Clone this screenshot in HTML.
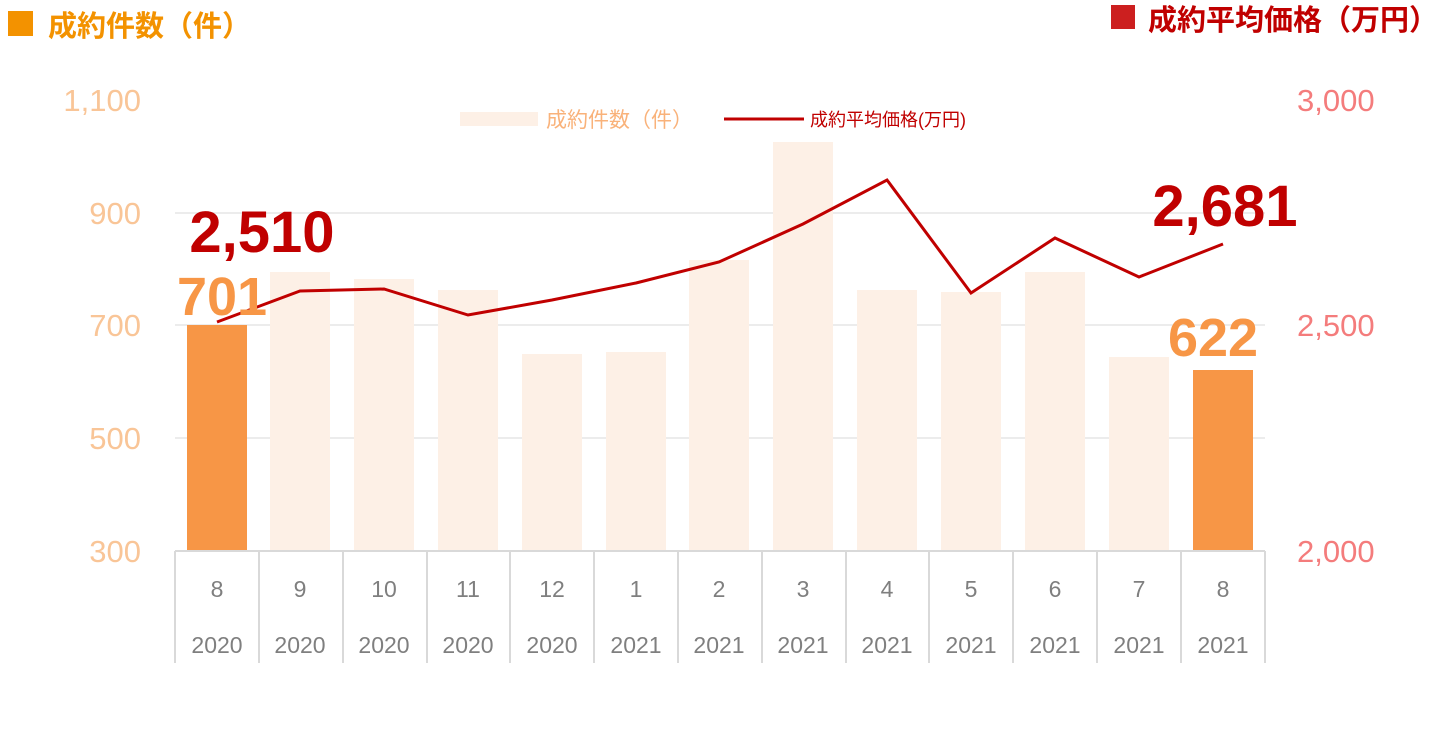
<!DOCTYPE html>
<html><head><meta charset="utf-8"><style>
body{margin:0;background:#fff}
svg text{font-family:"Liberation Sans","Noto Sans CJK JP",sans-serif}
</style></head><body>
<svg width="1440" height="738" viewBox="0 0 1440 738" xmlns="http://www.w3.org/2000/svg">
<rect x="8" y="11" width="25" height="25" fill="#f39200"/>
<text x="48" y="36" font-size="29" font-weight="bold" fill="#f39200">成約件数（件）</text>
<rect x="1111" y="5" width="24" height="24" fill="#cc1f1f"/>
<text x="1148" y="30" font-size="29" font-weight="bold" fill="#c00000">成約平均価格（万円）</text>
<g stroke="#e6e6e6" stroke-width="1.5">
<line x1="175" y1="213" x2="1265" y2="213"/><line x1="175" y1="325" x2="1265" y2="325"/><line x1="175" y1="438" x2="1265" y2="438"/>
</g>
<g font-size="31" fill="#f9c597" text-anchor="end">
<text x="141" y="111">1,100</text><text x="141" y="224">900</text><text x="141" y="336">700</text><text x="141" y="449">500</text><text x="141" y="562">300</text>
</g>
<g font-size="31" fill="#f47c7c">
<text x="1297" y="111">3,000</text><text x="1297" y="336">2,500</text><text x="1297" y="562">2,000</text>
</g>
<rect x="460" y="112" width="78" height="14" fill="#fdf0e6"/>
<text x="546" y="127" font-size="21" fill="#f9b27a">成約件数（件）</text>
<line x1="724" y1="119" x2="804" y2="119" stroke="#c00000" stroke-width="3"/>
<text x="810" y="126" font-size="18" fill="#c00000">成約平均価格(万円)</text>
<g fill="#fdf0e6">
<rect x="270" y="272" width="60" height="279"/><rect x="354" y="279" width="60" height="272"/><rect x="438" y="290" width="60" height="261"/><rect x="522" y="354" width="60" height="197"/><rect x="606" y="352" width="60" height="199"/><rect x="689" y="260" width="60" height="291"/><rect x="773" y="142" width="60" height="409"/><rect x="857" y="290" width="60" height="261"/><rect x="941" y="292" width="60" height="259"/><rect x="1025" y="272" width="60" height="279"/><rect x="1109" y="357" width="60" height="194"/>
</g>
<rect x="187" y="325" width="60" height="226" fill="#f79646"/>
<rect x="1193" y="370" width="60" height="181" fill="#f79646"/>
<polyline fill="none" stroke="#c00000" stroke-width="3" points="217,322 300,291 384,289 468,315 552,300 636,283 719,262 803,224 887,180 971,293 1055,238 1139,277 1223,244"/>
<g stroke="#d9d9d9" stroke-width="2">
<line x1="175" y1="551" x2="1265" y2="551"/>
<line x1="175" y1="551" x2="175" y2="663"/><line x1="259" y1="551" x2="259" y2="663"/><line x1="343" y1="551" x2="343" y2="663"/><line x1="427" y1="551" x2="427" y2="663"/><line x1="510" y1="551" x2="510" y2="663"/><line x1="594" y1="551" x2="594" y2="663"/><line x1="678" y1="551" x2="678" y2="663"/><line x1="762" y1="551" x2="762" y2="663"/><line x1="846" y1="551" x2="846" y2="663"/><line x1="929" y1="551" x2="929" y2="663"/><line x1="1013" y1="551" x2="1013" y2="663"/><line x1="1097" y1="551" x2="1097" y2="663"/><line x1="1181" y1="551" x2="1181" y2="663"/><line x1="1265" y1="551" x2="1265" y2="663"/>
</g>
<g font-size="23" fill="#7f7f7f" text-anchor="middle">
<text x="217" y="597">8</text><text x="300" y="597">9</text><text x="384" y="597">10</text><text x="468" y="597">11</text><text x="552" y="597">12</text><text x="636" y="597">1</text><text x="719" y="597">2</text><text x="803" y="597">3</text><text x="887" y="597">4</text><text x="971" y="597">5</text><text x="1055" y="597">6</text><text x="1139" y="597">7</text><text x="1223" y="597">8</text>
<text x="217" y="653">2020</text><text x="300" y="653">2020</text><text x="384" y="653">2020</text><text x="468" y="653">2020</text><text x="552" y="653">2020</text><text x="636" y="653">2021</text><text x="719" y="653">2021</text><text x="803" y="653">2021</text><text x="887" y="653">2021</text><text x="971" y="653">2021</text><text x="1055" y="653">2021</text><text x="1139" y="653">2021</text><text x="1223" y="653">2021</text>
</g>
<text x="262" y="252" font-size="58" font-weight="bold" fill="#c00000" text-anchor="middle">2,510</text>
<text x="1225" y="226" font-size="58" font-weight="bold" fill="#c00000" text-anchor="middle">2,681</text>
<text x="222" y="315" font-size="54" font-weight="bold" fill="#f79646" text-anchor="middle">701</text>
<text x="1213" y="356" font-size="54" font-weight="bold" fill="#f79646" text-anchor="middle">622</text>
</svg>
</body></html>
